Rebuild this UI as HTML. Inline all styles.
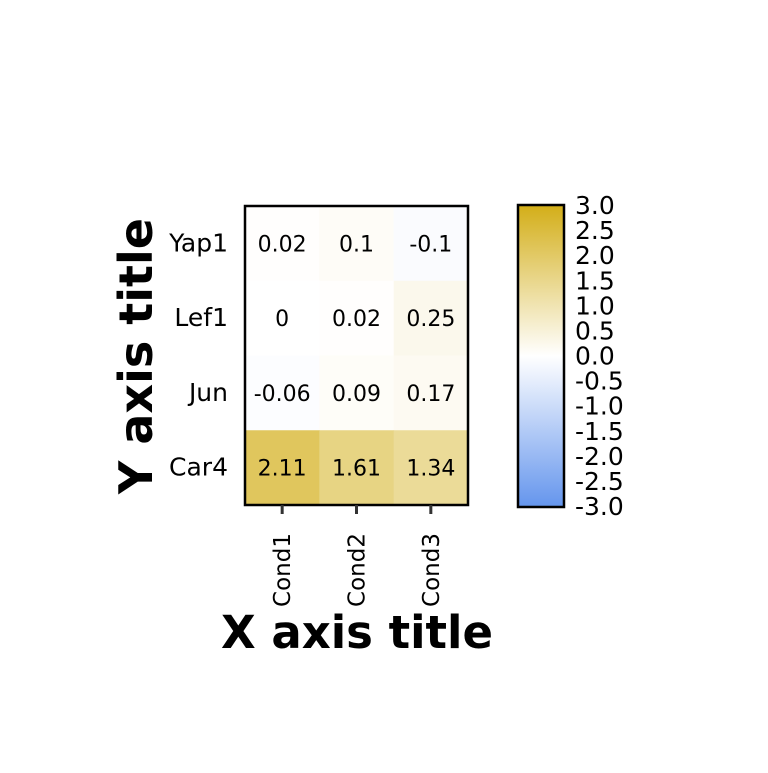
<!DOCTYPE html>
<html><head><meta charset="utf-8"><style>
body{margin:0;background:#fff}
svg{font-family:"DejaVu Sans","Liberation Sans",sans-serif}
</style></head><body>
<svg width="768" height="768" viewBox="0 0 768 768">
<defs><linearGradient id="cg" x1="0" y1="0" x2="0" y2="1">
<stop offset="0" stop-color="#d3ae18"/><stop offset="0.5" stop-color="#ffffff"/><stop offset="1" stop-color="#6495ed"/>
</linearGradient></defs>
<g id="cells"></g>
<rect x="245" y="206" width="223" height="299" fill="none" stroke="#000" stroke-width="2.5"/>
<g id="axes"></g>
<rect x="518" y="205" width="46" height="302" fill="url(#cg)" stroke="#000" stroke-width="2.5"/>
<g id="cb"></g>
<text x="357" y="648" text-anchor="middle" font-size="45" font-weight="bold">X axis title</text>
<text transform="translate(152,356) rotate(-90)" text-anchor="middle" font-size="46" font-weight="bold">Y axis title</text>
</svg>
<script>
const xCats=["Cond1","Cond2","Cond3"];
const yCats=["Yap1","Lef1","Jun","Car4"];
const values=[[0.02,0.1,-0.1],[0,0.02,0.25],[-0.06,0.09,0.17],[2.11,1.61,1.34]];
const cbTicks=[3.0,2.5,2.0,1.5,1.0,0.5,0.0,-0.5,-1.0,-1.5,-2.0,-2.5,-3.0];
const NS="http://www.w3.org/2000/svg";
const x0=245,x1=468,y0=206,y1=505;
const cw=(x1-x0)/xCats.length,ch=(y1-y0)/yCats.length;
function xs(i){return x0+i*cw;}
function ys(j){return y0+j*ch;}
function color(v){
  const t=Math.min(1,Math.abs(v)/3);
  const c=v>=0?[211,174,24]:[100,149,237];
  return `rgb(${c.map(k=>Math.round(255+(k-255)*t)).join(",")})`;
}
function mk(tag,attrs,parent){const e=document.createElementNS(NS,tag);for(const k in attrs)e.setAttribute(k,attrs[k]);parent.appendChild(e);return e;}
const cells=document.getElementById("cells"),axes=document.getElementById("axes"),cb=document.getElementById("cb");
values.forEach((row,j)=>row.forEach((v,i)=>{
  const r=mk("rect",{x:xs(i),y:ys(j),width:cw+0.5,height:ch+0.5,fill:color(v)},cells);
  
  
  const t=mk("text",{x:xs(i)+cw/2,y:ys(j)+ch/2+8,"text-anchor":"middle","font-size":"22"},cells);
  t.textContent=String(v);
  
  
}));
yCats.forEach((c,j)=>{
  const t=mk("text",{x:228,y:ys(j)+ch/2+8,"text-anchor":"end","font-size":"25"},axes);
  t.textContent=c;
  
  
});
xCats.forEach((c,i)=>{
  const cx=xs(i)+cw/2;
  const l=mk("line",{x1:cx,x2:cx,y1:505,y2:514,stroke:"#333","stroke-width":"3"},axes);
  
  
  const t=mk("text",{transform:`translate(${cx+8},533) rotate(-90)`,"text-anchor":"end","font-size":"23"},axes);
  t.textContent=c;
  
  
});
cbTicks.forEach(v=>{
  const y=206+(3-v)/6*301;
  const t=mk("text",{x:575,y:y+8,"font-size":"25"},cb);
  t.textContent=v.toFixed(1);
  
  
});
</script>
</body></html>
